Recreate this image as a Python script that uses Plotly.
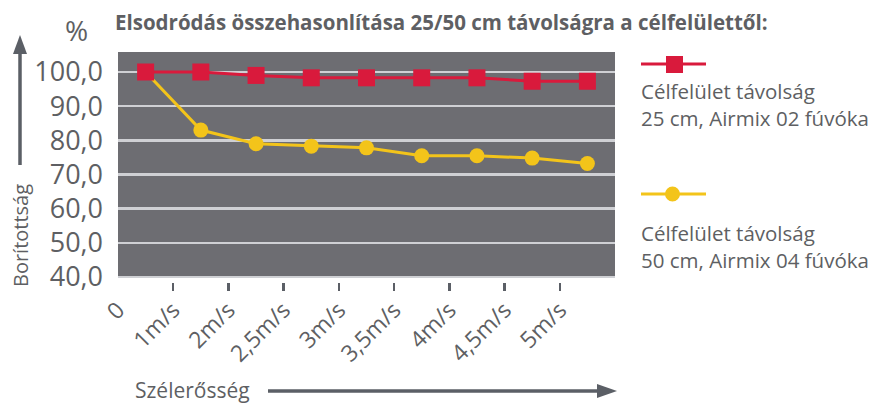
import plotly.graph_objects as go

# ---- data ----
categories = ["0", "1m/s", "2m/s", "2,5m/s", "3m/s", "3,5m/s", "4m/s", "4,5m/s", "5m/s"]
series_25cm = [100.0, 100.0, 99.0, 98.3, 98.3, 98.3, 98.3, 97.3, 97.3]
series_50cm = [100.0, 83.0, 79.0, 78.3, 77.8, 75.5, 75.5, 74.8, 73.2]
y_ticks = [40, 50, 60, 70, 80, 90, 100]
y_ticklabels = ["40,0", "50,0", "60,0", "70,0", "80,0", "90,0", "100,0"]
name_25 = "Célfelület távolság<br>25 cm, Airmix 02 fúvóka"
name_50 = "Célfelület távolság<br>50 cm, Airmix 04 fúvóka"
title_text = "Elsodródás összehasonlítása 25/50 cm távolságra a célfelülettől:"

# ---- styles ----
W, H = 888, 405
L, R, T, B = 118, 615, 52, 291
RED = "#d91a3c"
YEL = "#f3c41a"
BG = "#6d6d72"
GRID = "#cfd0d4"
TXT = "#5e5f63"
ARROW = "#5b5f66"
FONT = "Open Sans"

def px(x):
    return (x - L) / (R - L)

def py(y):
    return (B - y) / (B - T)

xpos = [i + 0.5 for i in range(len(categories))]
y_min_val = 40 - (B - 277) / ((277 - 72) / 60)
y_max_val = 100 + (72 - T) / ((277 - 72) / 60)

fig = go.Figure()
fig.add_trace(go.Scatter(x=xpos, y=series_50cm, mode="lines+markers", name=name_50,
                         line=dict(color=YEL, width=3),
                         marker=dict(symbol="circle", size=15, color=YEL)))
fig.add_trace(go.Scatter(x=xpos, y=series_25cm, mode="lines+markers", name=name_25,
                         line=dict(color=RED, width=3),
                         marker=dict(symbol="square", size=17, color=RED)))

shapes = []
shapes.append(dict(type="rect", xref="x", yref="y", x0=0, x1=len(categories), y0=40, y1=y_max_val,
                   fillcolor=BG, line=dict(width=0), layer="below"))
# y arrow
shapes.append(dict(type="line", xref="paper", yref="paper", x0=px(20), x1=px(20), y0=py(165), y1=py(50),
                   line=dict(color=ARROW, width=3.5)))
shapes.append(dict(type="path", xref="paper", yref="paper",
                   path=f"M {px(20)},{py(35)} L {px(13)},{py(54)} L {px(27)},{py(54)} Z",
                   fillcolor=ARROW, line=dict(width=0)))
# x arrow
shapes.append(dict(type="line", xref="paper", yref="paper", x0=px(268), x1=px(600), y0=py(391), y1=py(391),
                   line=dict(color=ARROW, width=3.5)))
shapes.append(dict(type="path", xref="paper", yref="paper",
                   path=f"M {px(617)},{py(391)} L {px(597)},{py(384)} L {px(597)},{py(398)} Z",
                   fillcolor=ARROW, line=dict(width=0)))
# legend symbols
shapes.append(dict(type="line", xref="paper", yref="paper", x0=px(641), x1=px(706), y0=py(64), y1=py(64),
                   line=dict(color=RED, width=3)))
shapes.append(dict(type="rect", xref="paper", yref="paper", x0=px(666), x1=px(683), y0=py(56), y1=py(73),
                   fillcolor=RED, line=dict(width=0)))
shapes.append(dict(type="line", xref="paper", yref="paper", x0=px(641), x1=px(706), y0=py(194), y1=py(194),
                   line=dict(color=YEL, width=3)))
shapes.append(dict(type="circle", xref="paper", yref="paper", x0=px(665), x1=px(680), y0=py(186.5), y1=py(201.5),
                   fillcolor=YEL, line=dict(width=0)))

annotations = [
    dict(text=f"<b>{title_text}</b>", x=px(113), y=py(22), xanchor="left", yanchor="middle",
         font=dict(size=20.5, color=TXT, family=FONT)),
    dict(text="%", x=px(76), y=py(30), xanchor="center", yanchor="middle",
         font=dict(size=28, color=TXT, family=FONT)),
    dict(text="Borítottság", x=px(20), y=py(236), xanchor="center", yanchor="middle", textangle=-90,
         font=dict(size=20, color=TXT, family=FONT)),
    dict(text="Szélerősség", x=px(133), y=py(390), xanchor="left", yanchor="middle",
         font=dict(size=21, color=TXT, family=FONT)),
    dict(text=name_25, x=px(639), y=py(104), xanchor="left", yanchor="middle", align="left",
         font=dict(size=20.5, color=TXT, family=FONT)),
    dict(text=name_50, x=px(639), y=py(246), xanchor="left", yanchor="middle", align="left",
         font=dict(size=20.5, color=TXT, family=FONT)),
]
for a in annotations:
    a.update(xref="paper", yref="paper", showarrow=False)

fig.update_layout(
    width=W, height=H,
    margin=dict(l=L, r=W - R, t=T, b=H - B, pad=0, autoexpand=False),
    paper_bgcolor="white", plot_bgcolor="white",
    showlegend=False,
    shapes=shapes, annotations=annotations,
    font=dict(family=FONT, color=TXT),
)
fig.update_xaxes(range=[0, len(categories)], tickmode="array",
                 tickvals=list(range(len(categories) + 1)), ticktext=categories + [""],
                 ticks="inside", ticklen=8, tickwidth=2.5, tickcolor=ARROW,
                 tickangle=-45, tickfont=dict(size=23, color=TXT, family=FONT),
                 showgrid=False, zeroline=False, showline=False, fixedrange=True, automargin=False)
fig.update_yaxes(range=[y_min_val, y_max_val], tickmode="array", tickvals=y_ticks, ticktext=y_ticklabels,
                 showgrid=True, gridcolor=GRID, gridwidth=2.5, zeroline=False, showline=False,
                 tickfont=dict(size=27, color=TXT, family=FONT), ticklabelstandoff=14, fixedrange=True,
                 automargin=False)

fig.write_html("out.html", config={"displayModeBar": False, "staticPlot": True},
               post_script="document.body.style.margin='0';document.body.style.overflow='hidden';")
